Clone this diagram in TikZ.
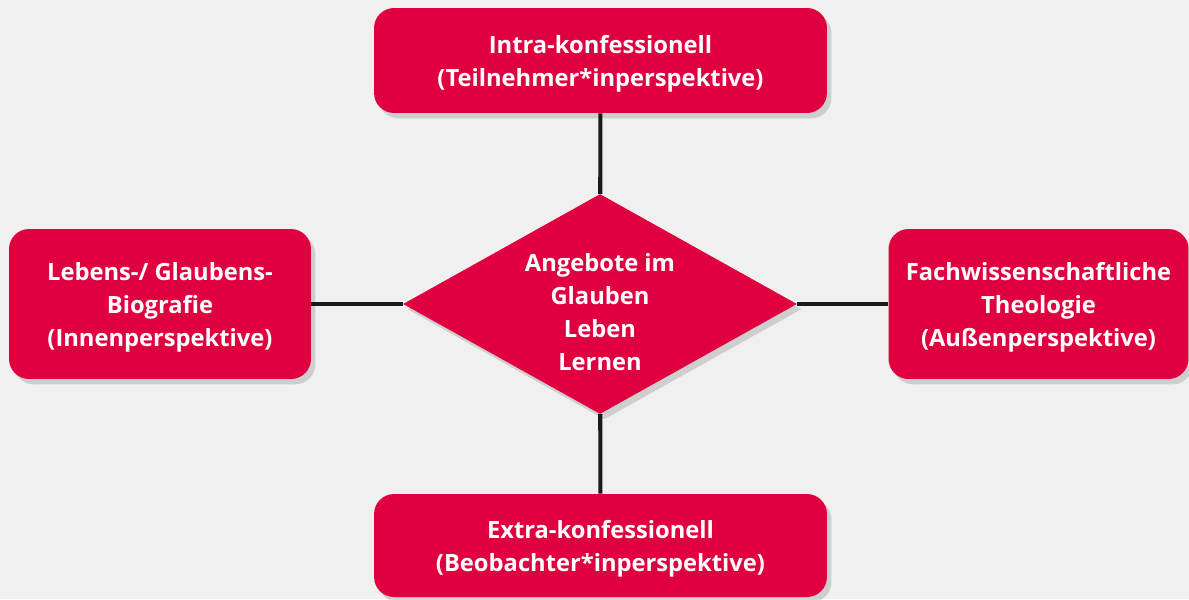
\documentclass[tikz,border=0pt]{standalone}
\usepackage{fontspec}
\setmainfont{Open Sans}
\usetikzlibrary{shapes.geometric,shadows}
\definecolor{bgGray}{HTML}{F0F0F0}
\definecolor{boxRed}{HTML}{E1003F}
\definecolor{lineDark}{HTML}{1A1A1A}
% first-line struts, push the text block a little down
\newcommand{\boxstrut}{\rule{0pt}{14.3pt}}
\newcommand{\hubstrut}{\rule{0pt}{19.3pt}}

\begin{document}
\begin{tikzpicture}[x=0.02cm, y=-0.02cm, line join=round,
    box/.style={rectangle, rounded corners=0.4cm, fill=boxRed, text=white, inner sep=0pt,
      font=\bfseries\fontsize{13.5}{18.8}\selectfont, align=center,
      drop shadow={opacity=0.3, shadow xshift=2.5pt, shadow yshift=-3pt}},
    hubbox/.style={diamond, fill=boxRed, text=white, inner sep=-6pt, aspect=1.79,
      minimum width=7.88cm, minimum height=4.4cm,
      font=\bfseries\fontsize{13.5}{18.8}\selectfont, align=center,
      drop shadow={opacity=0.3, shadow xshift=2.5pt, shadow yshift=-3pt}},
    conn/.style={draw=lineDark, line width=2.3pt}]
    % background and page size
    \fill[bgGray] (0,0) rectangle (1189,599);
    \useasboundingbox (0,0) rectangle (1189,599);
    % outer boxes
    \node[box, minimum width=9.06cm, minimum height=2.1cm] (intra) at (600.5,60.5)
      {\boxstrut Intra-konfessionell\\(Teilnehmer*inperspektive)};
    \node[box, minimum width=6.04cm, minimum height=3cm] (bio) at (160,304)
      {\boxstrut Lebens-/ Glaubens-\\Biografie\\(Innenperspektive)};
    \node[box, minimum width=6cm, minimum height=3cm] (fach) at (1038.5,304)
      {\boxstrut Fachwissenschaftliche\\Theologie\\(Außenperspektive)};
    \node[box, minimum width=9.06cm, minimum height=2.06cm] (extra) at (600.5,545.5)
      {\boxstrut Extra-konfessionell\\(Beobachter*inperspektive)};
    % centre
    \node[hubbox] (hub) at (600,304)
      {\hubstrut Angebote im\\Glauben\\Leben\\Lernen};
    % connectors
    \draw[conn] (intra) -- (hub);
    \draw[conn] (hub) -- (extra);
    \draw[conn] (bio) -- (hub);
    \draw[conn] (hub) -- (fach);
\end{tikzpicture}
\end{document}
